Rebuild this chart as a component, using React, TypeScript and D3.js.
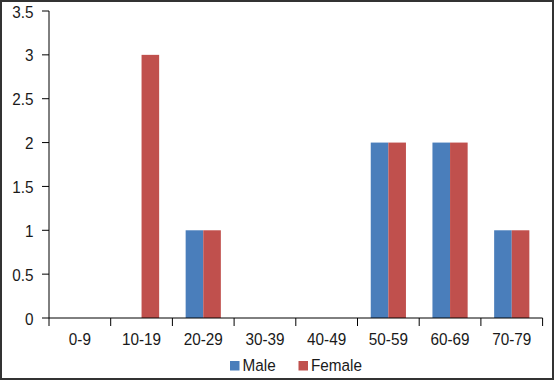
import React from "react";
import * as d3 from "d3";

const categories = ["0-9", "10-19", "20-29", "30-39", "40-49", "50-59", "60-69", "70-79"];
const male = [0, 0, 1, 0, 0, 2, 2, 1];
const female = [0, 3, 1, 0, 0, 2, 2, 1];
const yTicks = [0, 0.5, 1, 1.5, 2, 2.5, 3, 3.5];
const seriesNames = ["Male", "Female"];
const colors = ["#4a7ebb", "#c0504d"];

const font = "Liberation Sans, Arial, sans-serif";
const fs = 17;
const sx = 0.9;

function T({ x, y, anchor, children }: { x: number; y: number; anchor?: string; children: any }) {
  return (
    <text
      transform={`translate(${x},${y}) scale(${sx},1)`}
      textAnchor={anchor || "start"}
      fontFamily={font}
      fontSize={fs}
      fill="#1a1a1a"
    >
      {children}
    </text>
  );
}

export default function App() {
  const W = 554, H = 380;
  const left = 49, right = 542.6, top = 11, bottom = 318;
  const x = d3.scaleBand().domain(categories).range([left, right]).paddingInner(0).paddingOuter(0);
  const y = d3.scaleLinear().domain([0, 3.5]).range([bottom, top]);
  const bw = 17.6;
  const series = [male, female];
  return (
    <svg width={W} height={H} style={{ position: "absolute", left: 0, top: 0 }}>
      <rect x={0} y={0} width={W} height={H} fill="#fff" />
      <rect x={1} y={1} width={W - 2} height={H - 2} fill="none" stroke="#333" strokeWidth={2} />
      {series.map((vals, si) =>
        vals.map((v, i) => {
          const cx = (x(categories[i]) as number) + x.bandwidth() / 2;
          const bx = si === 0 ? cx - bw : cx;
          return v > 0 ? (
            <rect key={si + "-" + i} x={bx} y={y(v)} width={bw} height={y(0) - y(v)} fill={colors[si]} />
          ) : null;
        })
      )}
      <line x1={left} x2={left} y1={top} y2={bottom} stroke="#000" strokeWidth={1} />
      <line x1={left} x2={right} y1={bottom} y2={bottom} stroke="#000" strokeWidth={1} />
      {yTicks.map((t) => (
        <g key={t}>
          <line x1={left - 7} x2={left} y1={y(t)} y2={y(t)} stroke="#000" />
          <T x={33.5} y={y(t) + 6.5} anchor="end">{t}</T>
        </g>
      ))}
      {categories.map((c, i) => (
        <line key={"t" + i} x1={x(c) as number} x2={x(c) as number} y1={bottom} y2={bottom + 8} stroke="#000" />
      ))}
      <line x1={right} x2={right} y1={bottom} y2={bottom + 8} stroke="#000" />
      {categories.map((c) => (
        <T key={c} x={(x(c) as number) + x.bandwidth() / 2} y={344.5} anchor="middle">{c}</T>
      ))}
      <rect x={230} y={361} width={9.5} height={9.5} fill={colors[0]} />
      <T x={242.5} y={370.5}>{seriesNames[0]}</T>
      <rect x={298.5} y={361} width={9.5} height={9.5} fill={colors[1]} />
      <T x={311} y={370.5}>{seriesNames[1]}</T>
    </svg>
  );
}
